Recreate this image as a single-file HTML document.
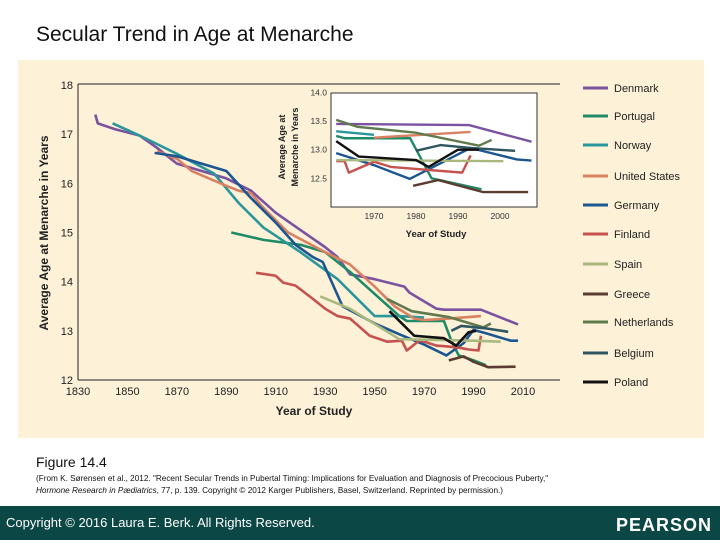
<!DOCTYPE html>
<html><head><meta charset="utf-8"><style>
body{margin:0;width:720px;height:540px;overflow:hidden;background:#fff;font-family:"Liberation Sans",sans-serif}
svg text{font-family:"Liberation Sans",sans-serif}
</style></head><body>
<svg id="s" width="720" height="540" viewBox="0 0 720 540">
<text x="36" y="41" font-size="21" fill="#111">Secular Trend in Age at Menarche</text>
<rect x="18" y="60" width="686" height="378" fill="#fdf1d8"/>
<g id="main"></g>
<g id="inset"></g>
<g id="legend"></g>
<text x="36" y="467" font-size="14" fill="#111">Figure 14.4</text>
<text x="36" y="481" font-size="8.2" fill="#111">(From K. Sørensen et al., 2012. "Recent Secular Trends in Pubertal Timing: Implications for Evaluation and Diagnosis of Precocious Puberty,"</text>
<text x="36" y="493" font-size="8.2" fill="#111"><tspan font-style="italic">Hormone Research in Pædiatrics</tspan>, 77, p. 139. Copyright © 2012 Karger Publishers, Basel, Switzerland. Reprinted by permission.)</text>
<rect x="0" y="506" width="720" height="34" fill="#0b4845"/>
<text x="6" y="527" font-size="13" fill="#fff">Copyright © 2016 Laura E. Berk. All Rights Reserved.</text>
<text x="712" y="531" font-size="18" fill="#fff" text-anchor="end" font-weight="bold" letter-spacing="1">PEARSON</text>
</svg>
<script>
const countries=["Denmark","Portugal","Norway","United States","Germany","Finland","Spain","Greece","Netherlands","Belgium","Poland"];
const colors=["#7b52a0","#1f8a66","#2a979a","#d88262","#1c5690","#c5524f","#a9b97e","#5a3d30","#5f7a4c","#2e5560","#111111"];
// main chart data
const denmarkYears=[1837,1838,1845,1855,1862,1870,1880,1890,1900,1910,1920,1930,1935,1940,1950,1962,1964,1970,1975,1978,1993,2008];
const denmarkAges=[17.4,17.22,17.1,16.97,16.72,16.4,16.25,16.1,15.85,15.4,15.05,14.7,14.5,14.15,14.05,13.9,13.78,13.6,13.45,13.43,13.43,13.13];
const portugalYears=[1892,1905,1920,1930,1940,1950,1960,1963,1978,1981,1984,1990,1995];
const portugalAges=[15.0,14.85,14.75,14.6,14.2,13.75,13.3,13.2,13.2,12.8,12.5,12.4,12.3];
const norwayYears=[1844,1855,1870,1885,1895,1905,1920,1935,1950,1960,1970];
const norwayAges=[17.22,16.97,16.6,16.2,15.6,15.1,14.6,14.05,13.3,13.3,13.27];
const usYears=[1862,1870,1876,1890,1895,1900,1905,1915,1930,1940,1950,1958,1966,1970,1980,1993];
const usAges=[16.65,16.5,16.25,15.95,15.85,15.8,15.5,15.0,14.6,14.35,13.9,13.5,13.25,13.22,13.25,13.3];
const germanyYears=[1861,1870,1880,1890,1900,1910,1918,1925,1929,1933,1937,1950,1960,1970,1979,1986,1990,1995,2005,2008];
const germanyAges=[16.62,16.55,16.4,16.25,15.7,15.2,14.75,14.5,14.4,13.95,13.5,13.15,12.93,12.72,12.5,12.75,13.02,12.95,12.8,12.8];
const finlandYears=[1902,1910,1913,1918,1925,1930,1935,1940,1948,1955,1961,1963,1968,1970,1975,1980,1985,1988,1992,1993];
const finlandAges=[14.18,14.12,13.98,13.92,13.65,13.45,13.3,13.25,12.9,12.78,12.8,12.6,12.8,12.78,12.7,12.68,12.65,12.62,12.6,12.9];
const spainYears=[1928,1940,1960,1970,1990,2001];
const spainAges=[13.7,13.45,12.83,12.82,12.8,12.78];
const greeceYears=[1980,1986,1990,1996,2007];
const greeceAges=[12.4,12.48,12.37,12.26,12.27];
const netherlandsYears=[1955,1961,1965,1980,1994,1997];
const netherlandsAges=[13.65,13.5,13.4,13.28,13.07,13.15];
const belgiumYears=[1981,1985,1995,2004];
const belgiumAges=[13.0,13.1,13.05,12.98];
const polandYears=[1956,1961,1966,1978,1983,1988,1991];
const polandAges=[13.4,13.15,12.9,12.85,12.7,12.97,13.0];
// inset chart data
const insetDenmarkYears=[1961,1992.6,2007.5];
const insetDenmarkAges=[13.45,13.43,13.14];
const insetPortugalYears=[1961,1963,1978.6,1983.7,1995.6];
const insetPortugalAges=[13.24,13.2,13.2,12.5,12.31];
const insetNorwayYears=[1961,1970];
const insetNorwayAges=[13.32,13.26];
const insetUsYears=[1970,1993];
const insetUsAges=[13.21,13.31];
const insetGermanyYears=[1961,1970,1978.5,1993,2004,2007.5];
const insetGermanyAges=[12.94,12.73,12.49,13.03,12.83,12.81];
const insetFinlandYears=[1961,1963,1964,1970,1974,1991,1993];
const insetFinlandAges=[12.8,12.8,12.6,12.79,12.7,12.6,12.9];
const insetSpainYears=[1961,2000.8];
const insetSpainAges=[12.82,12.8];
const insetGreeceYears=[1979.3,1985.3,1996,2006.7];
const insetGreeceAges=[12.37,12.47,12.26,12.26];
const insetNetherlandsYears=[1961,1966,1979.7,1995,1998];
const insetNetherlandsAges=[13.52,13.4,13.3,13.07,13.17];
const insetBelgiumYears=[1980,1985.8,1993,2003.6];
const insetBelgiumAges=[12.98,13.08,13.03,12.98];
const insetPolandYears=[1961,1966.4,1980,1983,1990,1995];
const insetPolandAges=[13.15,12.88,12.82,12.7,13.0,13.0];
const seriesYears=[denmarkYears,portugalYears,norwayYears,usYears,germanyYears,finlandYears,spainYears,greeceYears,netherlandsYears,belgiumYears,polandYears];
const seriesAges=[denmarkAges,portugalAges,norwayAges,usAges,germanyAges,finlandAges,spainAges,greeceAges,netherlandsAges,belgiumAges,polandAges];
const insetYears=[insetDenmarkYears,insetPortugalYears,insetNorwayYears,insetUsYears,insetGermanyYears,insetFinlandYears,insetSpainYears,insetGreeceYears,insetNetherlandsYears,insetBelgiumYears,insetPolandYears];
const insetAges=[insetDenmarkAges,insetPortugalAges,insetNorwayAges,insetUsAges,insetGermanyAges,insetFinlandAges,insetSpainAges,insetGreeceAges,insetNetherlandsAges,insetBelgiumAges,insetPolandAges];
const xTicks=[1830,1850,1870,1890,1910,1930,1950,1970,1990,2010];
const yTicks=[12,13,14,15,16,17,18];
const insetXTicks=[1970,1980,1990,2000];
const insetYTicks=["12.5","13.0","13.5","14.0"];

const NS="http://www.w3.org/2000/svg";
function mk(tag,attrs,parent){const e=document.createElementNS(NS,tag);for(const k in attrs)e.setAttribute(k,attrs[k]);parent.appendChild(e);return e;}
const main=document.getElementById('main'),inset=document.getElementById('inset'),legend=document.getElementById('legend');
const x=v=>78+(v-1830)*(445/180), y=v=>380-(v-12)*(295/6);
const ix=v=>374+(v-1970)*4.2, iy=v=>207-(v-12)*57.3;

let ax=mk('line',{x1:78,y1:380,x2:560,y2:380,stroke:'#222','stroke-width':1},main);


let ay=mk('line',{x1:78,y1:84,x2:78,y2:380,stroke:'#222','stroke-width':1},main);


mk('line',{x1:78,y1:84,x2:560,y2:84,stroke:'#222','stroke-width':1},main);
xTicks.forEach(t=>{const e=mk('text',{x:x(t),y:395,'font-size':11,'text-anchor':'middle',fill:'#222'},main);e.textContent=t;

});
yTicks.forEach(t=>{const e=mk('text',{x:73,y:y(t)+4,'font-size':11,'text-anchor':'end',fill:'#222'},main);e.textContent=t;

});
let xt=mk('text',{x:314,y:415,'font-size':12,'font-weight':'bold','text-anchor':'middle',fill:'#222'},main);xt.textContent='Year of Study';


let yt=mk('text',{x:48,y:233,'font-size':12,'font-weight':'bold','text-anchor':'middle',fill:'#222',transform:'rotate(-90 48 233)'},main);yt.textContent='Average Age at Menarche in Years';


seriesYears.forEach((ys,i)=>{const p=mk('polyline',{points:ys.map((v,j)=>x(v)+','+y(seriesAges[i][j])).join(' '),fill:'none',stroke:colors[i],'stroke-width':2.6,'stroke-linejoin':'round'},main);

});

let ib=mk('rect',{x:331,y:93,width:206,height:114,fill:'#fff',stroke:'#333','stroke-width':1},inset);


insetYears.forEach((ys,i)=>{const p=mk('polyline',{points:ys.map((v,j)=>ix(v)+','+iy(insetAges[i][j])).join(' '),fill:'none',stroke:colors[i],'stroke-width':2.4,'stroke-linejoin':'round'},inset);

});
insetXTicks.forEach(t=>{const e=mk('text',{x:ix(t),y:219,'font-size':8.5,'text-anchor':'middle',fill:'#333'},inset);e.textContent=t;

});
insetYTicks.forEach(t=>{const e=mk('text',{x:327,y:iy(+t)+3,'font-size':8.5,'text-anchor':'end',fill:'#333'},inset);e.textContent=t;

});
let it=mk('text',{x:436,y:237,'font-size':9.5,'font-weight':'bold','text-anchor':'middle',fill:'#222'},inset);it.textContent='Year of Study';


let iy1=mk('text',{x:285,y:147,'font-size':9,'font-weight':'bold','text-anchor':'middle',fill:'#222',transform:'rotate(-90 285 147)'},inset);iy1.textContent='Average Age at';


let iy2=mk('text',{x:298,y:147,'font-size':9,'font-weight':'bold','text-anchor':'middle',fill:'#222',transform:'rotate(-90 298 147)'},inset);iy2.textContent='Menarche in Years';



const legY=[88,116,145,176,205,234,264,294,322,353,382];
countries.forEach((c,i)=>{const g=mk('g',{},legend);


mk('line',{x1:583,y1:legY[i],x2:608,y2:legY[i],stroke:colors[i],'stroke-width':3},g);
const t=mk('text',{x:614,y:legY[i]+4,'font-size':11,fill:'#222'},g);t.textContent=c;});
</script>
</body></html>
